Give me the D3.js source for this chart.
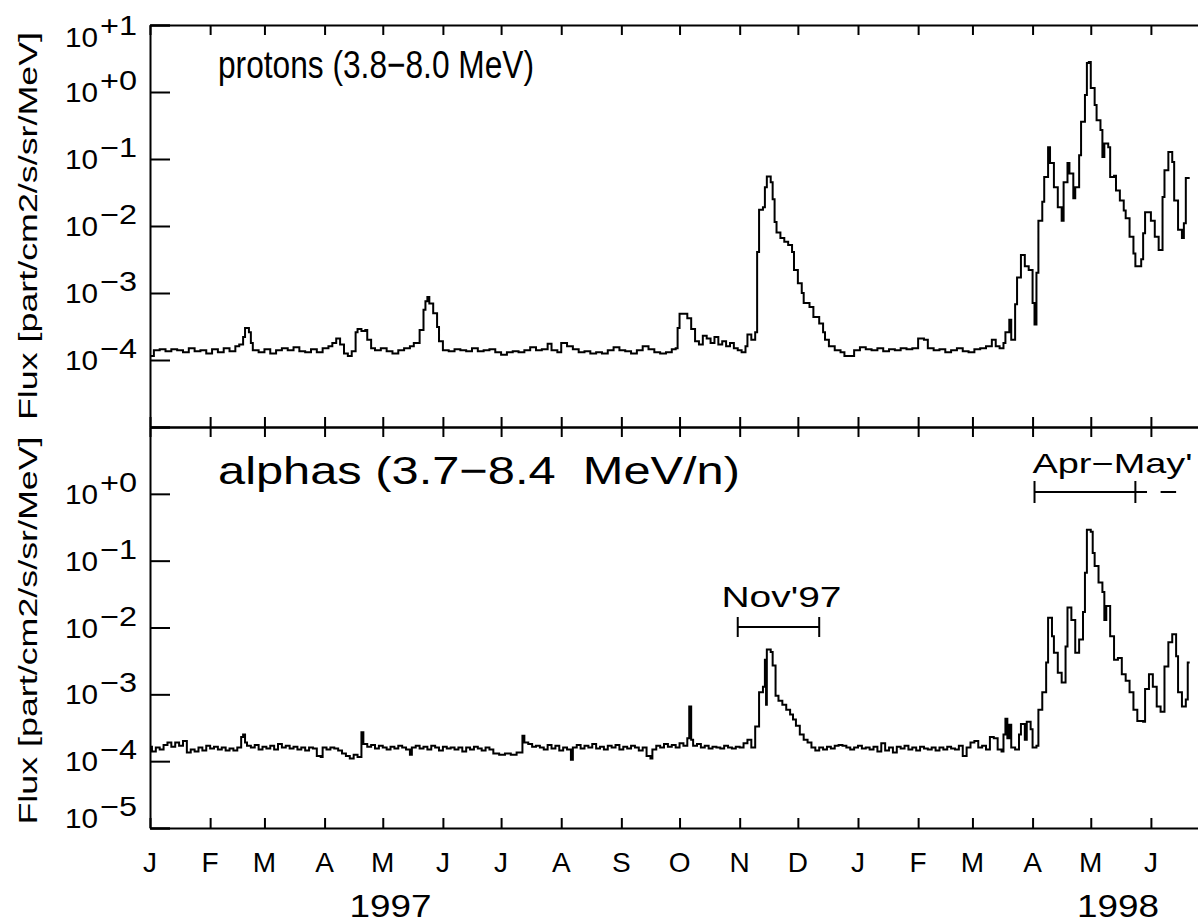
<!DOCTYPE html>
<html><head><meta charset="utf-8">
<script src="https://cdn.jsdelivr.net/npm/d3@7"></script>
<style>
body{margin:0;background:#fff}
svg{display:block;background:#fff}
text{font-family:"Liberation Sans",Arial,sans-serif;fill:#000;white-space:pre}
</style>
</head><body>
<svg id="c" width="1198" height="924"></svg>
<script>
// ---------- data (days since 1997-01-01, flux) ----------
const monthLabels = ["J","F","M","A","M","J","J","A","S","O","N","D","J","F","M","A","M","J"];
const yearLabels = ["1997","1998"];
const yearLabelDays = [124, 499];
const protonTitle = "protons (3.8\u22128.0 MeV)";
const alphaTitle = "alphas (3.7\u22128.4  MeV/n)";
const yTitle = "Flux [part/cm2/s/sr/MeV]";
const topTickExps = [1,0,-1,-2,-3,-4];
const botTickExps = [0,-1,-2,-3,-4,-5];
const tickSup = {"1":"+1","0":"+0","-1":"\u22121","-2":"\u22122","-3":"\u22123","-4":"\u22124","-5":"\u22125"};

const protonDays = [0,2,5,8,11,14,17,20,23,26,29,32,35,38,41,44,46,48,49,51,52,53,56,59,62,65,68,71,74,77,80,83,86,89,92,94,96,98,100,102,104,106,107,109,111,112,114,116,119,122,125,128,131,134,136,137,139,141,142,143,144,146,148,149,151,154,157,160,163,166,169,172,175,178,181,184,187,190,193,196,199,202,205,207,210,212,215,218,221,224,227,230,233,236,239,242,245,248,251,254,257,260,263,266,269,271,272,273,277,279,281,283,285,287,289,291,293,295,297,299,301,303,305,307,308,310,312,313,314,316,317,318,320,321,322,323,325,327,329,331,332,334,336,337,340,342,345,347,348,350,353,356,358,361,363,366,369,372,375,378,381,384,387,390,393,396,399,401,404,407,410,413,416,419,422,425,428,431,434,436,438,440,441,443,444,446,447,449,451,453,455,456,457,458,460,461,463,464,466,468,470,471,473,474,476,477,479,480,482,483,484,485,487,488,490,491,492,494,495,497,498,500,502,503,505,507,508,511,512,513,516,518,520,522,523,525,527,528,530,532,533,534,536];
const protonFlux = [1.15e-4,1.4e-4,1.45e-4,1.35e-4,1.45e-4,1.4e-4,1.3e-4,1.5e-4,1.35e-4,1.4e-4,1.25e-4,1.45e-4,1.3e-4,1.5e-4,1.35e-4,1.6e-4,1.7e-4,2.2e-4,3.0e-4,2.6e-4,1.8e-4,1.4e-4,1.3e-4,1.45e-4,1.25e-4,1.4e-4,1.5e-4,1.4e-4,1.55e-4,1.35e-4,1.3e-4,1.45e-4,1.3e-4,1.5e-4,1.6e-4,1.8e-4,2.1e-4,1.7e-4,1.25e-4,1.15e-4,1.35e-4,2.6e-4,2.9e-4,2.7e-4,2.8e-4,2.0e-4,1.5e-4,1.4e-4,1.5e-4,1.35e-4,1.25e-4,1.4e-4,1.5e-4,1.6e-4,1.8e-4,1.8e-4,2.8e-4,5.6e-4,7.5e-4,8.7e-4,7.0e-4,5.0e-4,3.1e-4,1.9e-4,1.4e-4,1.35e-4,1.45e-4,1.4e-4,1.35e-4,1.5e-4,1.35e-4,1.4e-4,1.45e-4,1.3e-4,1.2e-4,1.3e-4,1.35e-4,1.3e-4,1.4e-4,1.55e-4,1.4e-4,1.45e-4,1.75e-4,1.4e-4,1.3e-4,1.8e-4,1.6e-4,1.45e-4,1.3e-4,1.35e-4,1.25e-4,1.3e-4,1.25e-4,1.4e-4,1.55e-4,1.4e-4,1.35e-4,1.25e-4,1.4e-4,1.6e-4,1.45e-4,1.3e-4,1.25e-4,1.3e-4,1.45e-4,1.5e-4,3.0e-4,4.9e-4,4.2e-4,2.9e-4,1.9e-4,1.7e-4,2.3e-4,2.1e-4,1.8e-4,2.2e-4,1.7e-4,1.9e-4,1.6e-4,1.8e-4,1.5e-4,1.4e-4,1.3e-4,1.6e-4,2.4e-4,2.0e-4,2.6e-4,4.1e-3,1.75e-2,1.9e-2,3.8e-2,5.5e-2,4.5e-2,2.5e-2,1.15e-2,8.0e-3,6.6e-3,5.8e-3,5.2e-3,4.1e-3,2.2e-3,1.4e-3,1.0e-3,7.1e-4,6.2e-4,4.4e-4,3.5e-4,2.6e-4,2.0e-4,1.6e-4,1.4e-4,1.3e-4,1.15e-4,1.15e-4,1.4e-4,1.55e-4,1.45e-4,1.4e-4,1.5e-4,1.35e-4,1.45e-4,1.4e-4,1.5e-4,1.45e-4,1.5e-4,2.1e-4,2.0e-4,1.5e-4,1.4e-4,1.45e-4,1.3e-4,1.4e-4,1.5e-4,1.35e-4,1.3e-4,1.45e-4,1.5e-4,1.6e-4,2.0e-4,1.6e-4,1.5e-4,1.8e-4,2.6e-4,4.0e-4,2.0e-4,6.8e-4,1.7e-3,3.7e-3,2.5e-3,2.2e-3,7.1e-4,3.4e-4,2.0e-3,1.2e-2,2.3e-2,5.4e-2,1.5e-1,8.7e-2,3.8e-2,1.9e-2,1.2e-2,4.5e-2,8.7e-2,6.1e-2,2.6e-2,3.8e-2,1.14e-1,3.6e-1,9.0e-1,2.7,2.8,1.15,6.4e-1,3.8e-1,2.7e-1,1.07e-1,1.7e-1,1.5e-1,5.4e-2,5.6e-2,3.4e-2,2.4e-2,1.7e-2,1.3e-2,6.9e-3,3.9e-3,2.5e-3,3.2e-3,7.8e-3,1.6e-2,1.2e-2,6.9e-3,4.4e-3,2.7e-2,6.8e-2,1.27e-1,9.0e-2,2.4e-2,8.8e-3,6.6e-3,1.1e-2,5.2e-2,5.2e-2];

const alphaDays = [0,1,3,5,7,9,11,13,15,17,19,21,23,25,27,29,31,33,35,37,39,41,43,45,47,48,49,50,52,54,56,58,60,62,64,66,68,70,72,74,76,78,80,82,84,86,88,89,91,93,95,97,99,101,103,105,107,109,110,112,114,116,118,120,122,124,126,128,130,132,134,135,137,139,141,143,145,147,149,151,153,155,157,159,161,163,165,167,169,171,173,175,177,180,183,186,189,192,193,195,197,199,201,203,205,207,209,211,213,215,217,218,220,222,224,226,228,230,232,234,236,238,240,242,244,246,248,250,252,254,256,258,259,261,263,265,267,269,271,273,275,277,278,279,280,282,284,286,288,290,292,294,296,298,300,302,304,306,308,310,312,314,316,317,317.6,318,320,321,322.5,324,326,328,330,331.5,333,335,337,339,341,343,345,347,349,351,353,355,357,359,361,363,365,367,369,371,373,375,377,379,381,383,385,387,389,391,393,395,397,399,401,403,405,407,409,411,413,415,417,419,421,423,425,427,429,431,433,435,437,439,440,441,442,443,444,446,448,449,451,452,454,455,457,458,460,462,463,465,466,468,470,472,473,475,477,479,481,482,483,485,486,487,489,491,492,493,495,497,499,501,503,505,507,509,512,513,515,517,519,521,523,525,527,529,530,532,534,535,536];
const alphaFlux = [1.65e-4,1.4e-4,1.6e-4,1.5e-4,1.75e-4,1.9e-4,1.65e-4,1.9e-4,1.7e-4,2.0e-4,1.35e-4,1.5e-4,1.4e-4,1.6e-4,1.45e-4,1.7e-4,1.55e-4,1.65e-4,1.5e-4,1.6e-4,1.45e-4,1.55e-4,1.45e-4,1.6e-4,2.3e-4,2.5e-4,1.9e-4,1.7e-4,1.6e-4,1.75e-4,1.5e-4,1.65e-4,1.55e-4,1.7e-4,1.5e-4,1.8e-4,1.6e-4,1.7e-4,1.55e-4,1.65e-4,1.5e-4,1.6e-4,1.45e-4,1.6e-4,1.55e-4,1.2e-4,1.15e-4,1.6e-4,1.5e-4,1.6e-4,1.55e-4,1.45e-4,1.3e-4,1.2e-4,1.1e-4,1.25e-4,1.15e-4,2.7e-4,1.8e-4,1.65e-4,1.75e-4,1.55e-4,1.7e-4,1.6e-4,1.5e-4,1.65e-4,1.55e-4,1.7e-4,1.6e-4,1.5e-4,1.25e-4,1.6e-4,1.7e-4,1.55e-4,1.65e-4,1.5e-4,1.7e-4,1.6e-4,1.45e-4,1.65e-4,1.55e-4,1.6e-4,1.5e-4,1.6e-4,1.4e-4,1.6e-4,1.5e-4,1.65e-4,1.55e-4,1.45e-4,1.6e-4,1.5e-4,1.3e-4,1.25e-4,1.3e-4,1.25e-4,1.35e-4,2.4e-4,1.9e-4,1.8e-4,1.65e-4,1.7e-4,1.6e-4,1.5e-4,1.75e-4,1.55e-4,1.7e-4,1.45e-4,1.6e-4,1.5e-4,1.05e-4,1.6e-4,1.75e-4,1.55e-4,1.7e-4,1.6e-4,1.8e-4,1.55e-4,1.65e-4,1.5e-4,1.7e-4,1.6e-4,1.75e-4,1.5e-4,1.65e-4,1.55e-4,1.7e-4,1.6e-4,1.45e-4,1.6e-4,1.2e-4,1.1e-4,1.5e-4,1.7e-4,1.6e-4,1.8e-4,1.65e-4,1.75e-4,1.6e-4,1.85e-4,1.7e-4,2.2e-4,6.6e-4,2.1e-4,1.7e-4,1.8e-4,1.6e-4,1.7e-4,1.55e-4,1.65e-4,1.6e-4,1.55e-4,1.7e-4,1.6e-4,1.55e-4,1.65e-4,1.6e-4,1.85e-4,2.1e-4,1.6e-4,3.3e-4,1.07e-3,1.3e-3,3.3e-3,7.0e-4,4.7e-3,4.3e-3,2.7e-3,9.5e-4,8.0e-4,7.0e-4,5.9e-4,5.0e-4,4.2e-4,3.4e-4,2.5e-4,2.1e-4,1.9e-4,1.6e-4,1.45e-4,1.6e-4,1.5e-4,1.65e-4,1.55e-4,1.7e-4,1.75e-4,1.7e-4,1.6e-4,1.5e-4,1.6e-4,1.7e-4,1.55e-4,1.6e-4,1.5e-4,1.65e-4,1.4e-4,1.85e-4,1.45e-4,1.6e-4,1.35e-4,1.65e-4,1.55e-4,1.7e-4,1.5e-4,1.6e-4,1.45e-4,1.65e-4,1.55e-4,1.5e-4,1.6e-4,1.45e-4,1.6e-4,1.5e-4,1.65e-4,1.55e-4,1.5e-4,1.7e-4,1.2e-4,1.6e-4,1.9e-4,2.0e-4,1.6e-4,1.7e-4,1.5e-4,2.3e-4,2.2e-4,1.5e-4,1.4e-4,2.5e-4,4.3e-4,2.2e-4,3.5e-4,1.6e-4,1.5e-4,2.5e-4,3.6e-4,2.1e-4,3.9e-4,3.0e-4,1.6e-4,1.7e-4,5.9e-4,1.07e-3,3.0e-3,1.4e-2,7.4e-3,4.2e-3,2.1e-3,1.5e-3,5.2e-3,2.0e-2,1.3e-2,4.2e-3,6.6e-3,1.7e-2,6.6e-2,2.9e-1,2.7e-1,1.3e-1,8.3e-2,4.7e-2,3.4e-2,1.3e-2,2.1e-2,7.4e-3,3.3e-3,3.5e-3,2.0e-3,1.6e-3,1.07e-3,5.9e-4,4.0e-4,3.9e-4,1.2e-3,2.0e-3,1.3e-3,6.6e-4,5.5e-4,2.6e-3,6.0e-3,7.9e-3,3.7e-3,1.07e-3,6.6e-4,8.4e-4,3.0e-3,3.0e-3];

// period annotations (days since 1997-01-01)
const novLabel = "Nov'97";
const novPeriod = [303, 345];
const aprLabel = "Apr\u2212May'98";
const aprPeriod = [456, 508, 514];
const aprDash = [521, 529];

// ---------- drawing ----------
const svg = d3.select("#c");
const t0 = new Date(1997, 0, 1);
const dayToDate = d => new Date(t0.getTime() + d * 864e5);
const x = d3.scaleTime().domain([t0, new Date(1998, 6, 1)]).range([150, 150 + 546 * 708 / 365]);
const months = d3.timeMonth.range(t0, new Date(1998, 6, 1));

const panels = [
  {top: 25, bottom: 427, days: protonDays, flux: protonFlux, exps: topTickExps, title: protonTitle, titleY: 78, titleLen: 316},
  {top: 427, bottom: 828, days: alphaDays, flux: alphaFlux, exps: botTickExps, title: alphaTitle, titleY: 484, titleLen: 522}
];

panels.forEach((p, i) => {
  const y = d3.scaleLog().domain([1e-5, 10]).range([p.bottom, p.top]);
  const g = svg.append("g");
  g.append("g").attr("transform", "translate(150,0)")
    .call(d3.axisRight(y).tickValues(p.exps.concat([1, -5]).map(e => Math.pow(10, e))).tickSize(20).tickSizeOuter(0).tickFormat(""))
    .call(s => s.selectAll("path,line").attr("stroke", "#000").attr("stroke-width", 2));
  g.append("g").attr("transform", `translate(0,${p.top})`)
    .call(d3.axisBottom(x).tickValues(months).tickSize(10).tickSizeOuter(0).tickFormat(""))
    .call(s => s.selectAll("path,line").attr("stroke", "#000").attr("stroke-width", 2));
  g.append("g").attr("transform", `translate(0,${p.bottom})`)
    .call(d3.axisTop(x).tickValues(months).tickSize(10).tickSizeOuter(0).tickFormat(""))
    .call(s => s.selectAll("path,line").attr("stroke", "#000").attr("stroke-width", 2));

  p.exps.forEach(e => {
    const ty = y(Math.pow(10, e));
    let base = ty + 10;
    if (ty - p.top < 5) base = ty + 22;
    if (p.bottom - ty < 5) base = ty;
    g.append("text").attr("x", 65).attr("y", base).attr("font-size", 28)
      .attr("textLength", 33).attr("lengthAdjust", "spacingAndGlyphs").text("10");
    g.append("text").attr("x", 100).attr("y", base - 12).attr("font-size", 28)
      .attr("textLength", 37).attr("lengthAdjust", "spacingAndGlyphs").text(tickSup[String(e)]);
  });

  const pts = p.days.map((d, k) => [dayToDate(d), p.flux[k]]);
  g.append("path").datum(pts)
    .attr("fill", "none").attr("stroke", "#000").attr("stroke-width", 2)
    .attr("d", d3.line().x(d => x(d[0])).y(d => y(d[1])).curve(d3.curveStepAfter));

  g.append("text").attr("x", 218).attr("y", p.titleY).attr("font-size", 39)
    .attr("textLength", p.titleLen).attr("lengthAdjust", "spacingAndGlyphs").text(p.title);

  const cy = (p.top + p.bottom) / 2 + (i === 0 ? 0 : 3);
  g.append("text").attr("transform", `translate(37,${cy}) rotate(-90)`)
    .attr("text-anchor", "middle").attr("font-size", 25)
    .attr("textLength", 388).attr("lengthAdjust", "spacingAndGlyphs").text(yTitle);
});

months.forEach((m, k) => {
  svg.append("text").attr("x", x(m)).attr("y", 872).attr("text-anchor", "middle")
    .attr("font-size", 28).text(monthLabels[k]);
});
yearLabels.forEach((yl, k) => {
  svg.append("text").attr("x", x(dayToDate(yearLabelDays[k]))).attr("y", 917).attr("text-anchor", "middle")
    .attr("font-size", 31).attr("textLength", 82).attr("lengthAdjust", "spacingAndGlyphs").text(yl);
});

const ann = svg.append("g").attr("stroke", "#000").attr("stroke-width", 2);
const nx0 = x(dayToDate(novPeriod[0])), nx1 = x(dayToDate(novPeriod[1]));
ann.append("line").attr("x1", nx0).attr("x2", nx1).attr("y1", 627).attr("y2", 627);
ann.append("line").attr("x1", nx0).attr("x2", nx0).attr("y1", 617).attr("y2", 637);
ann.append("line").attr("x1", nx1).attr("x2", nx1).attr("y1", 617).attr("y2", 637);
svg.append("text").attr("x", (nx0 + nx1) / 2 + 3).attr("y", 607).attr("text-anchor", "middle")
  .attr("font-size", 30).attr("textLength", 120).attr("lengthAdjust", "spacingAndGlyphs").text(novLabel);

const ax0 = x(dayToDate(aprPeriod[0])), ax1 = x(dayToDate(aprPeriod[1])), ax2 = x(dayToDate(aprPeriod[2]));
ann.append("line").attr("x1", ax0).attr("x2", ax2).attr("y1", 492).attr("y2", 492);
ann.append("line").attr("x1", ax0).attr("x2", ax0).attr("y1", 481).attr("y2", 503);
ann.append("line").attr("x1", ax1).attr("x2", ax1).attr("y1", 481).attr("y2", 503);
ann.append("line").attr("x1", x(dayToDate(aprDash[0]))).attr("x2", x(dayToDate(aprDash[1]))).attr("y1", 492).attr("y2", 492);
const aprText = svg.append("text").attr("x", ax0 - 2).attr("y", 473).attr("font-size", 28);
aprText.append("tspan").attr("textLength", 160).attr("lengthAdjust", "spacingAndGlyphs").text(aprLabel.slice(0, -2));
aprText.append("tspan").attr("x", 1201).text(aprLabel.slice(-2));
</script>
</body></html>
